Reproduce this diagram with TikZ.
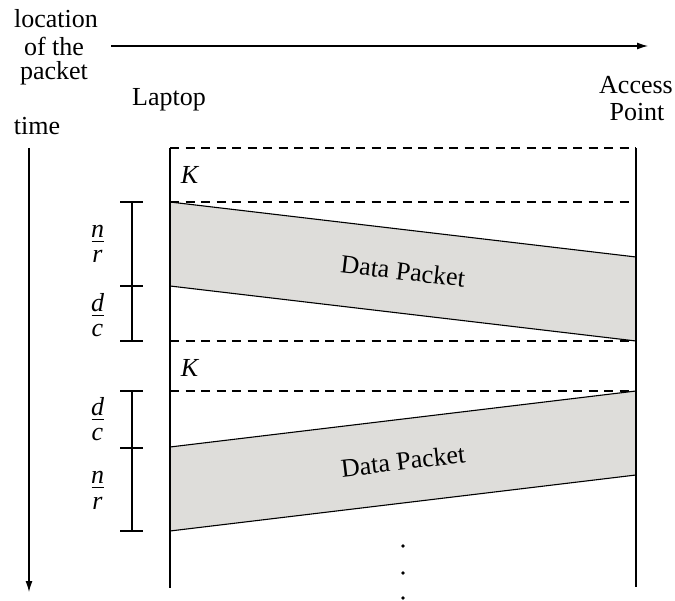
\documentclass[tikz,border=0pt]{standalone}
\usepackage{fontspec}
\setmainfont{Liberation Serif}
\usetikzlibrary{arrows.meta}
\definecolor{pktgray}{RGB}{222,221,218}
\tikzset{
  lbl/.style={font=\fontsize{26}{27}\selectfont, inner sep=0pt},
  fracpart/.style={font=\fontsize{26}{27}\selectfont\itshape, inner sep=0pt, anchor=base},
  axis/.style={line width=1.2pt, -{Latex[length=11pt,width=7pt]}},
  solidline/.style={line width=1.2pt},
  dashline/.style={line width=1.1pt, dash pattern=on 9pt off 6.5pt},
  pkt/.style={fill=pktgray, draw=black, line width=1.1pt},
  brack/.style={line width=1.1pt},
  fracbar/.style={line width=1pt},
  dotmark/.style={circle, fill=black, inner sep=0pt, minimum size=3.6pt}
}
\begin{document}
\begin{tikzpicture}[x=1pt,y=-1pt]
\useasboundingbox (0,0) rectangle (675,601);
% labels
\node[lbl] (loc1) at (56,19) {location};
\node[lbl] (loc2) at (54,46) {of the};
\node[lbl] (loc3) at (54,73) {packet};
\node[lbl] (laptop) at (169,100) {Laptop};
\node[lbl] (ap1) at (636,85) {Access};
\node[lbl] (ap2) at (637,112) {Point};
\node[lbl] (time) at (37,126) {time};
% axes
\coordinate (hx0) at (111,46);
\coordinate (hx1) at (648,46);
\draw[axis] (hx0) -- (hx1);
\coordinate (tx0) at (29,148);
\coordinate (tx1) at (29,592);
\draw[axis] (tx0) -- (tx1);
% vertical lines
\coordinate (L0) at (170,148);
\coordinate (L1) at (170,588);
\coordinate (R0) at (636,148);
\coordinate (R1) at (636,587);
% packets
\coordinate (p1a) at (170,202);
\coordinate (p1b) at (636,257);
\coordinate (p1c) at (636,341);
\coordinate (p1d) at (170,286);
\draw[pkt] (p1a) -- (p1b) -- (p1c) -- (p1d) -- cycle;
\coordinate (p2a) at (170,447);
\coordinate (p2b) at (636,391);
\coordinate (p2c) at (636,475);
\coordinate (p2d) at (170,531);
\draw[pkt] (p2a) -- (p2b) -- (p2c) -- (p2d) -- cycle;
\node[lbl, rotate=-6.7] (dp1) at (403,271) {Data Packet};
\node[lbl, rotate=6.8] (dp2) at (403,461) {Data Packet};
% dashed lines
\coordinate (d1l) at (170,148); \coordinate (d1r) at (636,148);
\coordinate (d2l) at (170,202); \coordinate (d2r) at (636,202);
\coordinate (d3l) at (170,341); \coordinate (d3r) at (636,341);
\coordinate (d4l) at (170,391); \coordinate (d4r) at (636,391);
\draw[dashline] (d1l) -- (d1r);
\draw[dashline] (d2l) -- (d2r);
\draw[dashline] (d3l) -- (d3r);
\draw[dashline] (d4l) -- (d4r);
\draw[solidline] (L0) -- (L1);
\draw[solidline] (R0) -- (R1);
\node[lbl] (k1) at (190,175) {\textit{K}};
\node[lbl] (k2) at (190,368) {\textit{K}};
% brackets
\coordinate (b1t) at (132,202); \coordinate (b1m) at (132,286); \coordinate (b1b) at (132,341);
\draw[brack] (b1t) -- (b1b);
\draw[brack] ([xshift=-12pt]b1t) -- ([xshift=11pt]b1t);
\draw[brack] ([xshift=-12pt]b1m) -- ([xshift=11pt]b1m);
\draw[brack] ([xshift=-12pt]b1b) -- ([xshift=11pt]b1b);
\coordinate (b2t) at (132,391); \coordinate (b2m) at (132,448); \coordinate (b2b) at (132,531);
\draw[brack] (b2t) -- (b2b);
\draw[brack] ([xshift=-12pt]b2t) -- ([xshift=11pt]b2t);
\draw[brack] ([xshift=-12pt]b2m) -- ([xshift=11pt]b2m);
\draw[brack] ([xshift=-12pt]b2b) -- ([xshift=11pt]b2b);
% fractions
\foreach \nm/\yb/\num/\den in {f1/242/n/r, f2/316/d/c, f3/420/d/c, f4/488/n/r}{
  \coordinate (\nm barl) at (91.5,\yb);
  \coordinate (\nm barr) at (103.5,\yb);
  \draw[fracbar] (\nm barl) -- (\nm barr);
  \node[fracpart] (\nm num) at (97.5,\yb-4.5) {\num};
  \node[fracpart] (\nm den) at (97.5,\yb+21) {\den};
}
% dots
\node[dotmark] (dt1) at (403,546) {};
\node[dotmark] (dt2) at (403,573) {};
\node[dotmark] (dt3) at (403,598) {};
\end{tikzpicture}
\end{document}
